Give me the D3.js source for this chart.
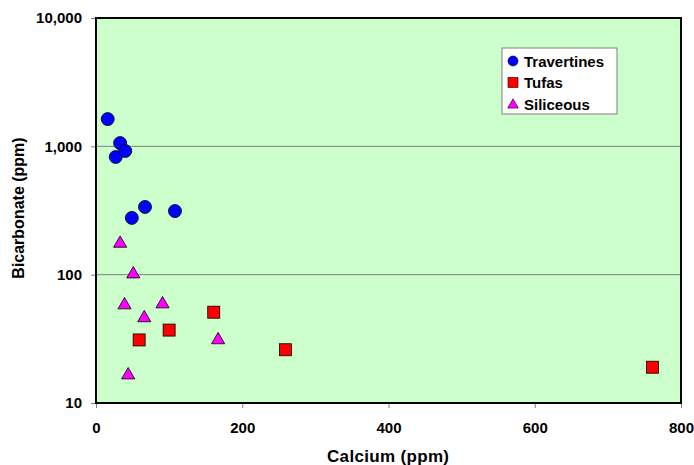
<!DOCTYPE html>
<html><head><meta charset="utf-8">
<script src="https://cdn.jsdelivr.net/npm/d3@7"></script>
<style>body{margin:0;background:#fff;} text{font-family:"Liberation Sans",Arial,sans-serif;font-weight:bold;}</style>
</head><body>
<svg id="c" width="694" height="465"></svg>
<script>
const travertines = [[16,1630],[33,1060],[27,826],[40,920],[49,277],[67,337],[108,313]];
const tufas = [[59,31],[100,37],[161,51],[259,26],[761,19]];
const siliceous = [[33,175],[51,101],[39,58],[91,59],[66,46],[167,31],[44,16.5]];
const xTicks = [0,200,400,600,800];
const yTicks = [10,100,1000,10000];

const svg = d3.select("#c");
const L=96,R=681,T=18,B=403;
const x = d3.scaleLinear().domain([0,800]).range([L,R]);
const y = d3.scaleLog().domain([10,10000]).range([B,T]);

svg.append("rect").attr("x",L).attr("y",T).attr("width",R-L).attr("height",B-T).attr("fill","#ccffcc");
svg.append("g").selectAll("line").data(yTicks.slice(1,3)).join("line")
  .attr("x1",L).attr("x2",R).attr("y1",d=>y(d)).attr("y2",d=>y(d)).attr("stroke","#808080").attr("stroke-width",1);

const xa = svg.append("g").attr("transform",`translate(0,${B})`)
  .call(d3.axisBottom(x).tickValues(xTicks).tickSize(5).tickPadding(14).tickFormat(d3.format("d")));
const ya = svg.append("g").attr("transform",`translate(${L},0)`)
  .call(d3.axisLeft(y).tickValues(yTicks).tickSize(5).tickPadding(9).tickFormat(d3.format(",")));
[xa,ya].forEach(a=>{a.select(".domain").remove();a.selectAll("text").attr("font-size",15).attr("fill","#000").style("font-family","'Liberation Sans',Arial,sans-serif").style("font-weight","bold");a.selectAll("line").attr("stroke","#808080");});

svg.append("rect").attr("x",L).attr("y",T).attr("width",R-L).attr("height",B-T).attr("fill","none").attr("stroke","#000").attr("stroke-width",2);

const g = svg.append("g");
g.selectAll(".t").data(travertines).join("circle").attr("cx",d=>x(d[0])).attr("cy",d=>y(d[1])).attr("r",6.5)
  .attr("fill","#0000ff").attr("stroke","#000").attr("stroke-width",0.8);
g.selectAll(".s").data(tufas).join("rect").attr("x",d=>x(d[0])-6).attr("y",d=>y(d[1])-6).attr("width",12).attr("height",12)
  .attr("fill","#ff0000").attr("stroke","#000").attr("stroke-width",0.8);
const tri = d3.symbol().type(d3.symbolTriangle).size(75);
g.selectAll(".g").data(siliceous).join("path").attr("d",tri).attr("transform",d=>`translate(${x(d[0])},${y(d[1])})`)
  .attr("fill","#ff00ff").attr("stroke","#000").attr("stroke-width",0.8);

// legend
const lg = svg.append("g");
lg.append("rect").attr("x",502).attr("y",48).attr("width",115).attr("height",66).attr("fill","#fff").attr("stroke","#808080");
const names=["Travertines","Tufas","Siliceous"];
names.forEach((n,i)=>{
  const cy=61+i*21.5;
  if(i===0) lg.append("circle").attr("cx",513).attr("cy",cy).attr("r",5).attr("fill","#0000ff").attr("stroke","#000").attr("stroke-width",0.6);
  if(i===1) lg.append("rect").attr("x",508).attr("y",cy-5).attr("width",10).attr("height",10).attr("fill","#ff0000").attr("stroke","#000").attr("stroke-width",0.6);
  if(i===2) lg.append("path").attr("d",d3.symbol().type(d3.symbolTriangle).size(50)).attr("transform",`translate(513,${cy+1})`).attr("fill","#ff00ff").attr("stroke","#000").attr("stroke-width",0.6);
  lg.append("text").attr("x",524).attr("y",cy+5.5).attr("font-size",15).text(n);
});

svg.append("text").attr("x",388).attr("y",462).attr("text-anchor","middle").attr("font-size",17).attr("textLength",122).text("Calcium (ppm)");
svg.append("text").attr("transform",`translate(24,208) rotate(-90)`).attr("text-anchor","middle").attr("font-size",16).text("Bicarbonate (ppm)");
</script>
</body></html>
